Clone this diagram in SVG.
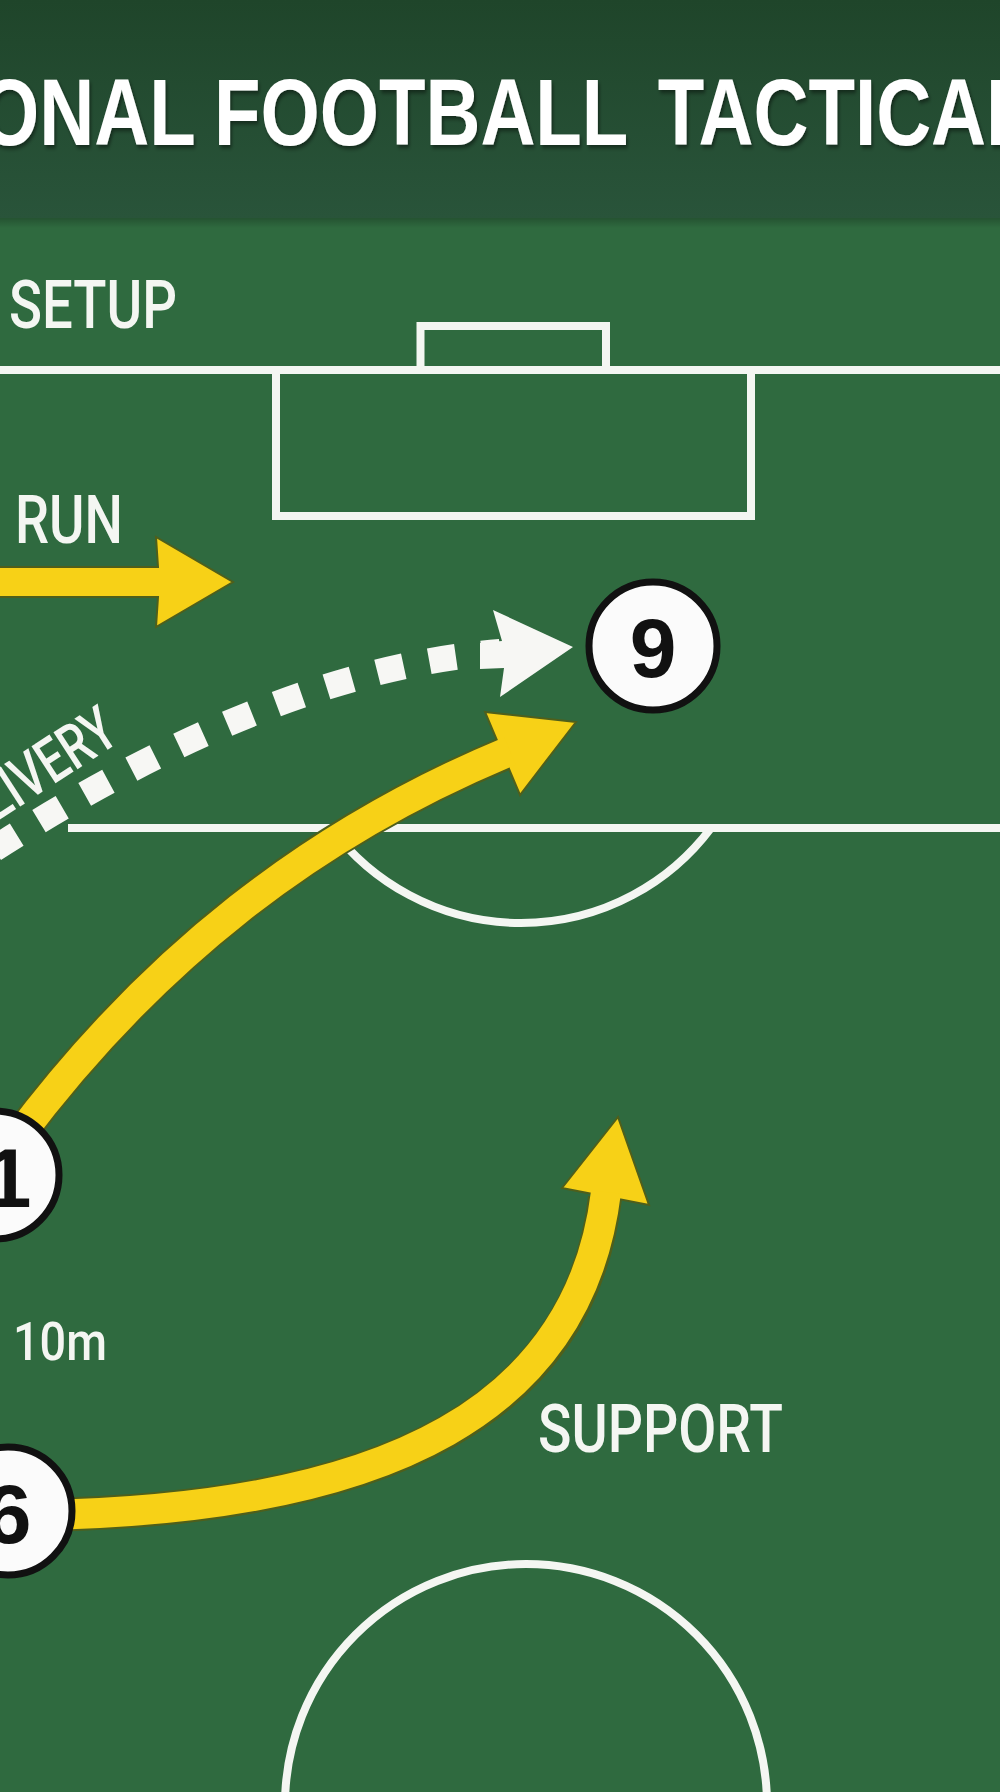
<svg xmlns="http://www.w3.org/2000/svg" width="1000" height="1792" viewBox="0 0 1000 1792">
<defs>
<linearGradient id="hdr" x1="0" y1="0" x2="0" y2="1"><stop offset="0" stop-color="#1f452a"/><stop offset="1" stop-color="#29543a"/></linearGradient>
<linearGradient id="shd" x1="0" y1="0" x2="0" y2="1"><stop offset="0" stop-color="#000" stop-opacity="0.22"/><stop offset="1" stop-color="#000" stop-opacity="0"/></linearGradient>
<filter id="ts" x="-5%" y="-30%" width="110%" height="160%"><feDropShadow dx="2" dy="3" stdDeviation="2" flood-color="#000" flood-opacity="0.45"/></filter>
</defs>
<style>
.pl{fill:none;stroke:#f4f6f2;stroke-width:8}
.lbl{font-family:Roboto,"Liberation Sans",Arial,sans-serif;font-weight:500;fill:#f4f6f2}
.node circle{fill:#fbfbfb;stroke:#111;stroke-width:7}
.node text{font-family:"Liberation Sans",Arial,sans-serif;font-weight:bold;font-size:84px;fill:#111;text-anchor:middle}
.so{fill:none;stroke:#4f5f1b;stroke-width:34}
.sh{fill:none;stroke:#f7d117;stroke-width:30}
.hd{fill:#f7d117;stroke:#4f5f1b;stroke-width:2}
.dots{fill:none;stroke:#f7f7f4;stroke-width:26;stroke-dasharray:27 26;stroke-dashoffset:36.5}
</style>
<rect x="0" y="0" width="1000" height="1792" fill="#2f6a3f"/>
<rect x="0" y="0" width="1000" height="218" fill="url(#hdr)"/>
<rect x="0" y="218" width="1000" height="10" fill="url(#shd)"/>
<text id="title" transform="scale(0.81 1)" y="145" font-family="Liberation Sans, Arial, sans-serif" font-weight="bold" font-size="94" fill="#ffffff" filter="url(#ts)"><tspan x="-24.7">ONAL </tspan><tspan x="264.2">FOOTBALL </tspan><tspan x="812">TACTICAL</tspan></text>
<g id="pitch">
<line class="pl" x1="0" y1="370" x2="1000" y2="370"/>
<path class="pl" d="M420.5 370 V326 H606 V370"/>
<path class="pl" d="M276 370 V516 H751 V370"/>
<path class="pl" d="M68 828 H1000"/>
<path class="pl" d="M331 828 A237.5 237.5 0 0 0 711 828"/>
<circle class="pl" cx="526" cy="1805" r="241"/>
</g>
<g id="connectors">
<polygon id="run-arrow" class="hd" points="-10,567 158,567 156,537 233,582 156,627 158,597 -10,597"/>
<g id="delivery">
<path class="dots" d="M-20 858 Q269 670 500 652"/>
<polygon fill="#f7f7f4" points="480,643 502,641 493,610 573,647 500,697 504,668 480,669"/>
</g>
<g id="run-1-9">
<path class="so" d="M15 1141 C150 960 312 833 506 753"/>
<polygon class="hd" points="485,712 576,722 520,795"/>
<path class="sh" d="M15 1141 C150 960 312 833 510 751"/>
</g>
<g id="support-6">
<path class="so" d="M40 1515 C396 1509 580 1405 605 1198"/>
<polygon class="hd" points="562,1188 618,1117 649,1205"/>
<path class="sh" d="M40 1515 C396 1509 580 1405 606 1192"/>
</g>
</g>
<g id="node-9" class="node"><circle cx="653" cy="646" r="64"/><text x="653" y="677">9</text></g>
<g id="node-1" class="node"><circle cx="-5" cy="1175" r="64"/><text x="8" y="1207">1</text></g>
<g id="node-6" class="node"><circle cx="8" cy="1511" r="64"/><text x="8" y="1543">6</text></g>
<g id="labels">
<text class="lbl" x="9" y="328" style="font-size:67px" textLength="168" lengthAdjust="spacingAndGlyphs">SETUP</text>
<text class="lbl" x="15" y="543" style="font-size:67px" textLength="108" lengthAdjust="spacingAndGlyphs">RUN</text>
<text class="lbl" x="-4" y="822" style="font-size:62px" textLength="150" lengthAdjust="spacingAndGlyphs" transform="rotate(-33 -4 822)">LIVERY</text>
<text class="lbl" x="13" y="1360" style="font-size:54px" textLength="94" lengthAdjust="spacingAndGlyphs">10m</text>
<text class="lbl" x="538" y="1452" style="font-size:67px" textLength="245" lengthAdjust="spacingAndGlyphs">SUPPORT</text>
</g>
</svg>
